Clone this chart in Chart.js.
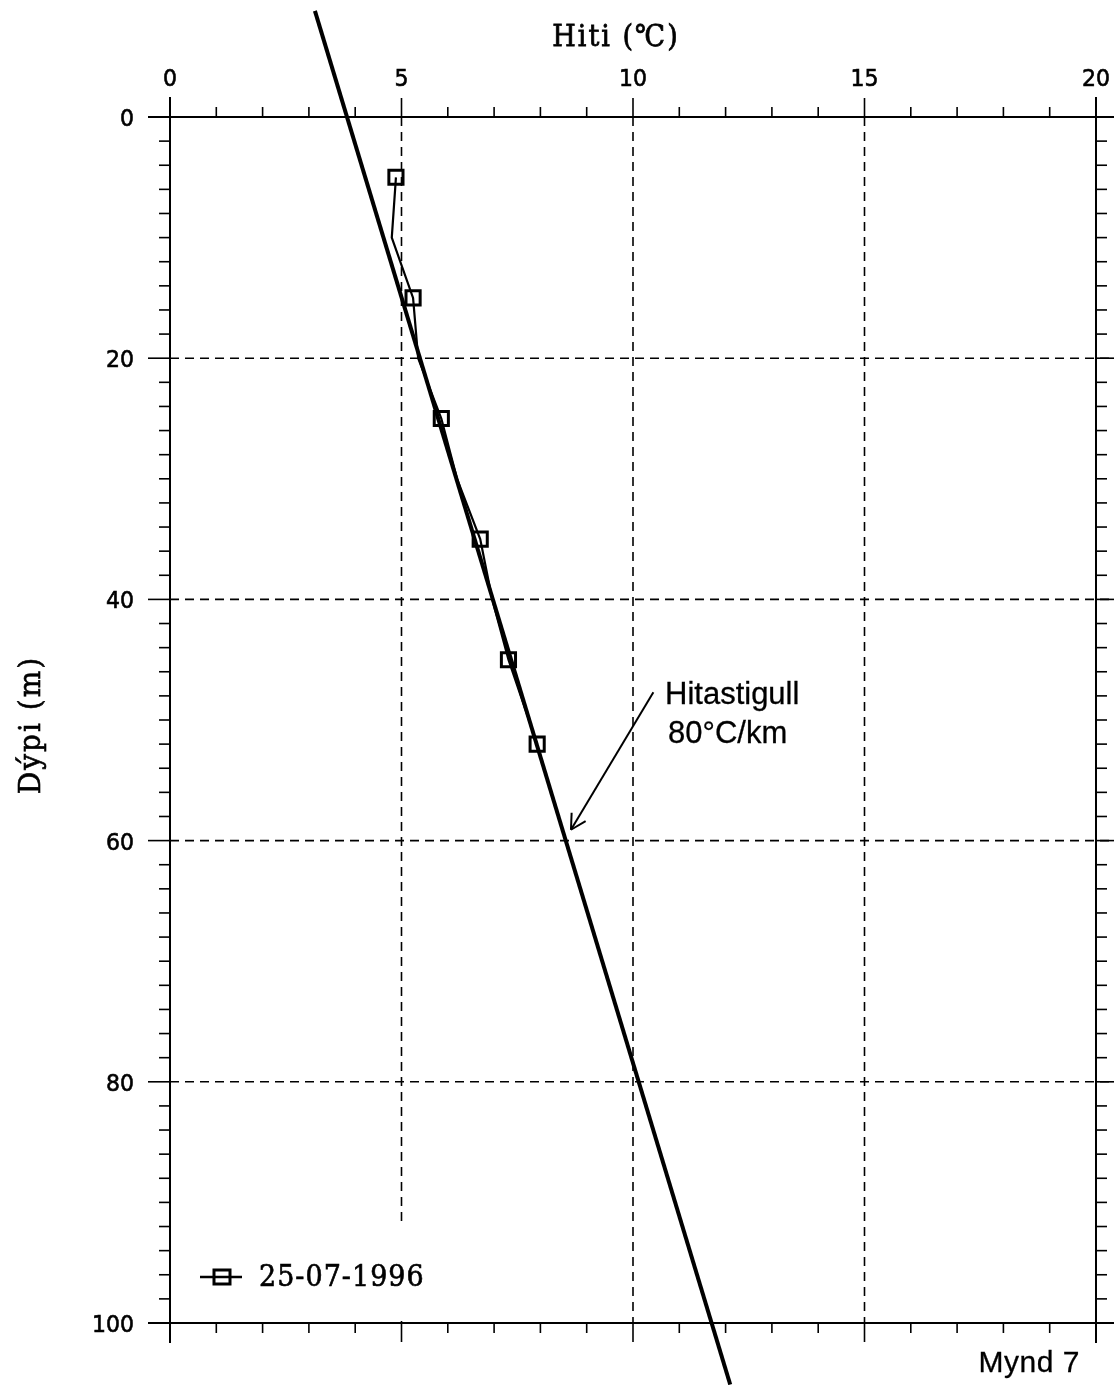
<!DOCTYPE html>
<html>
<head>
<meta charset="utf-8">
<script src="https://cdn.jsdelivr.net/npm/chart.js@4/dist/chart.umd.min.js"></script>
<style>
  body { margin: 0; background: #fff; }
  #wrap { width: 1114px; height: 1385px; }
</style>
</head>
<body>
<div id="wrap"><canvas id="hitiChart" width="1114" height="1385"></canvas></div>
<script>
// mælingar 25-07-1996
const depthM = [5, 10, 15, 20, 25, 30, 35, 40, 45, 52];
const tempC = [4.88, 4.79, 5.25, 5.36, 5.86, 6.2, 6.7, 6.96, 7.31, 7.93];
const markerShown = [true, false, true, false, true, false, true, false, true, true];

// hitastigull 80°C/km (línan nær út fyrir rammann)
const gradientDepth = [-8.8, 105.1];
const gradientTemp = [3.13, 12.1];

const xTickLabels = [0, 5, 10, 15, 20];
const yTickLabels = [0, 20, 40, 60, 80, 100];

const legendLabel = '25-07-1996';

document.addEventListener('DOMContentLoaded', () => {
    const ctx = document.getElementById('hitiChart').getContext('2d');

    // texti teygður lóðrétt og aðeins feitari, eins og á gamla plottinu
    const drawText = (c, text, x, y, font, sy, align, spacing, weight) => {
        c.save();
        c.translate(x, y);
        c.scale(1, sy);
        c.font = font;
        c.letterSpacing = (spacing || 0) + 'px';
        c.textAlign = align;
        c.textBaseline = 'alphabetic';
        c.fillStyle = '#000';
        c.fillText(text, 0, 0);
        if (weight) {
            c.strokeStyle = '#000';
            c.lineWidth = weight;
            c.strokeText(text, 0, 0);
        }
        c.restore();
    };

    const line = (c, x1, y1, x2, y2) => {
        c.beginPath();
        c.moveTo(x1, y1);
        c.lineTo(x2, y2);
        c.stroke();
    };

    const axesPlugin = {
        id: 'axesPlugin',
        beforeDatasetsDraw(chart) {
            const c = chart.ctx;
            const xs = chart.scales.x, ys = chart.scales.y;
            const a = chart.chartArea;
            c.save();
            c.strokeStyle = '#000';

            // brotalínur
            c.lineWidth = 1.6;
            c.setLineDash([9, 6]);
            xTickLabels.slice(1, -1).forEach(v => {
                const px = xs.getPixelForValue(v);
                line(c, px, a.top, px, a.bottom);
            });
            yTickLabels.slice(1, -1).forEach(v => {
                const py = ys.getPixelForValue(v);
                line(c, a.left, py, 1114, py);
            });
            c.setLineDash([]);

            // hvítur reitur undir skýringu
            c.fillStyle = '#fff';
            c.fillRect(a.left + 3, 1224, 270, a.bottom - 1226);

            // rammi
            c.lineWidth = 2;
            line(c, a.left - 22, a.top, 1114, a.top);
            line(c, a.left - 22, a.bottom, 1114, a.bottom);
            line(c, a.left, a.top - 20, a.left, a.bottom + 20);
            line(c, a.right, a.top - 20, a.right, a.bottom + 20);

            // merki á x-ás (efst og neðst)
            c.lineWidth = 1.6;
            for (let v = 0; v <= 20; v++) {
                const px = xs.getPixelForValue(v);
                const len = v % 5 === 0 ? 19 : 10;
                line(c, px, a.top, px, a.top - len);
                line(c, px, a.bottom, px, a.bottom + len);
            }
            // merki á y-ás (vinstri og hægri)
            for (let v = 0; v <= 100; v += 2) {
                const py = ys.getPixelForValue(v);
                const len = v % 20 === 0 ? 22 : 11;
                line(c, a.left, py, a.left - len, py);
                line(c, a.right, py, a.right + len, py);
            }

            // tölur á ásum
            xTickLabels.forEach(v => {
                drawText(c, String(v), xs.getPixelForValue(v), 86, '22px "DejaVu Sans"', 1.05, 'center', 0, 0.6);
            });
            yTickLabels.forEach(v => {
                drawText(c, String(v), 134, ys.getPixelForValue(v) + 9, '22px "DejaVu Sans"', 1.05, 'right', 0, 0.6);
            });
            c.restore();
        },
        afterDatasetsDraw(chart) {
            const c = chart.ctx;
            const xs = chart.scales.x, ys = chart.scales.y;
            c.save();

            // ásaheiti
            drawText(c, 'Hiti (℃)', 616, 46, '27px "DejaVu Serif"', 1.12, 'center', 2, 0.7);
            c.save();
            c.translate(40, 725);
            c.rotate(-Math.PI / 2);
            drawText(c, 'Dýpi (m)', 0, 0, '28px "DejaVu Serif"', 1.08, 'center', 2, 0.6);
            c.restore();

            // skýring
            c.strokeStyle = '#000';
            c.lineWidth = 2.5;
            line(c, 200, 1277, 242, 1277);
            c.lineWidth = 3;
            c.strokeRect(214, 1270, 16, 14);
            drawText(c, legendLabel, 259, 1286, '27px "DejaVu Serif"', 1.1, 'left', 1, 0.6);

            // ör og texti um hitastigul
            const fx = xs.getPixelForValue(10.44), fy = ys.getPixelForValue(47.7);
            const tx = xs.getPixelForValue(8.66), ty = ys.getPixelForValue(59.1);
            c.lineWidth = 2;
            line(c, fx, fy, tx, ty);
            const ang = Math.atan2(fy - ty, fx - tx);
            [-0.5, 0.5].forEach(d => {
                line(c, tx, ty, tx + 17 * Math.cos(ang + d), ty + 17 * Math.sin(ang + d));
            });
            drawText(c, 'Hitastigull', 665, 704, '31px "Liberation Sans"', 1, 'left', 0, 0.3);
            drawText(c, '80°C/km', 668, 743, '31px "Liberation Sans"', 1, 'left', 0, 0.3);
            drawText(c, 'Mynd 7', 1080, 1372, '30px "Liberation Sans"', 1, 'right', 0.5, 0.3);
            c.restore();
        }
    };

    new Chart(ctx, {
        type: 'scatter',
        data: {
            datasets: [
                {
                    label: legendLabel,
                    data: depthM.map((d, i) => ({ x: tempC[i], y: d })),
                    showLine: true,
                    borderColor: '#000',
                    borderWidth: 2.2,
                    pointStyle: 'rect',
                    pointRadius: markerShown.map(m => m ? 10 : 0),
                    pointBorderWidth: 3,
                    pointBackgroundColor: 'rgba(0,0,0,0)',
                    pointBorderColor: '#000',
                    tension: 0
                },
                {
                    label: 'Hitastigull',
                    data: gradientDepth.map((d, i) => ({ x: gradientTemp[i], y: d })),
                    showLine: true,
                    borderColor: '#000',
                    borderWidth: 4,
                    pointRadius: 0,
                    clip: false
                }
            ]
        },
        options: {
            responsive: false,
            animation: false,
            layout: { padding: { left: 170, right: 18, top: 117, bottom: 62 } },
            scales: {
                x: { type: 'linear', position: 'top', min: 0, max: 20, display: false },
                y: { type: 'linear', min: 0, max: 100, reverse: true, display: false }
            },
            plugins: {
                legend: { display: false },
                tooltip: { enabled: false }
            }
        },
        plugins: [axesPlugin]
    });
});
</script>
</body>
</html>
